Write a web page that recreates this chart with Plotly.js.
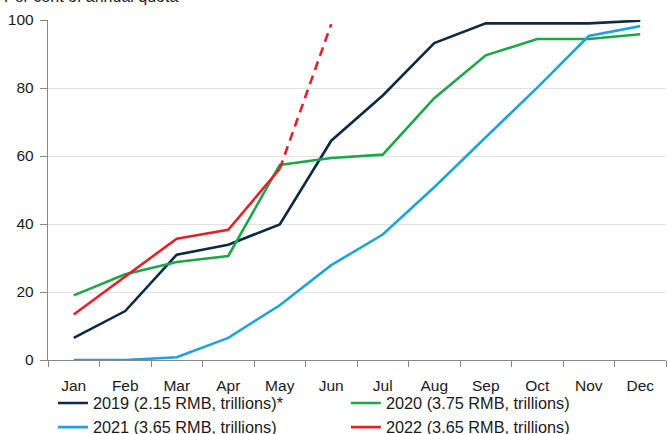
<!DOCTYPE html>
<html>
<head>
<meta charset="utf-8">
<script src="https://cdn.plot.ly/plotly-3.0.1.min.js"></script>
<style>
html,body{margin:0;padding:0;background:#fff;}
#chart{width:667px;height:434px;}
</style>
</head>
<body>
<div id="chart"></div>
<script>
const months = ["Jan","Feb","Mar","Apr","May","Jun","Jul","Aug","Sep","Oct","Nov","Dec"];
const s2019 = [6.5, 14.4, 31, 33.9, 39.9, 64.5, 77.8, 93.2, 99, 99, 99, 99.8];
const s2020 = [19, 25.2, 28.8, 30.6, 57.4, 59.4, 60.4, 77, 89.6, 94.4, 94.4, 95.8];
const s2021 = [0, 0, 0.8, 6.5, 16.1, 27.9, 36.9, 50.8, 65.5, 80.1, 95.3, 98.2];
const s2022 = [13.4, 24.6, 35.7, 38.3, 56.2];
const s2022projMonths = ["May","Jun"];
const s2022proj = [56.2, 98.8];
const names = ["2019 (2.15 RMB, trillions)*","2020 (3.75 RMB, trillions)","2021 (3.65 RMB, trillions)","2022 (3.65 RMB, trillions)"];
const yTicks = [0,20,40,60,80,100];
const titleText = "Per cent of annual quota";

const C19 = "#0c2a44", C20 = "#1ba64a", C21 = "#1ea3dc", C22 = "#e2222b";
const lw = 2.6;
const traces = [
  {x: months, y: s2019, name: names[0], type:"scatter", mode:"lines", line:{color:C19, width:lw}},
  {x: months, y: s2020, name: names[1], type:"scatter", mode:"lines", line:{color:C20, width:lw}},
  {x: months, y: s2021, name: names[2], type:"scatter", mode:"lines", line:{color:C21, width:lw}},
  {x: months.slice(0, s2022.length), y: s2022, name: names[3], type:"scatter", mode:"lines", line:{color:C22, width:lw}},
  {x: s2022projMonths, y: s2022proj, name: "2022 projection", showlegend:false, type:"scatter", mode:"lines", line:{color:C22, width:lw, dash:"9px,6px"}}
];
const font = {family:"Liberation Sans, Arial, sans-serif", color:"#1a1a1a"};
const layout = {
  width:667, height:434,
  margin:{l:48, r:1, t:20, b:74, autoexpand:false},
  paper_bgcolor:"#fff", plot_bgcolor:"#fff",
  font: Object.assign({size:15.5}, font),
  showlegend:true,
  annotations:[{
    text:titleText, xref:"paper", yref:"paper", x:-46/618, xanchor:"left",
    y:1 + 13/340, yanchor:"bottom", showarrow:false, font:Object.assign({size:16}, font)
  }],
  xaxis:{
    type:"category", categoryarray: months, range:[-0.5, 11.5],
    showgrid:false, zeroline:false,
    showline:true, linecolor:"#888", linewidth:1.2,
    ticks:"outside", ticklen:6, tickcolor:"#888", tickson:"boundaries",
    ticklabelstandoff:11,
    tickfont:Object.assign({size:15.5}, font), fixedrange:true
  },
  yaxis:{
    range:[0,100], tickvals:yTicks, showgrid:true, gridcolor:"#e3e3e3", gridwidth:1,
    zeroline:false, showline:true, linecolor:"#888", linewidth:1.2,
    ticks:"outside", ticklen:7, tickcolor:"#888", ticklabelstandoff:3,
    tickfont:Object.assign({size:15.5}, font), fixedrange:true
  },
  legend:{
    orientation:"h", x:0.008, xanchor:"left", y:-0.076, yanchor:"top",
    entrywidth:248, entrywidthmode:"pixels",
    font:Object.assign({size:16.3}, font), bgcolor:"rgba(0,0,0,0)", traceorder:"normal"
  }
};
Plotly.newPlot("chart", traces, layout, {displayModeBar:false, staticPlot:true});
</script>
</body>
</html>
